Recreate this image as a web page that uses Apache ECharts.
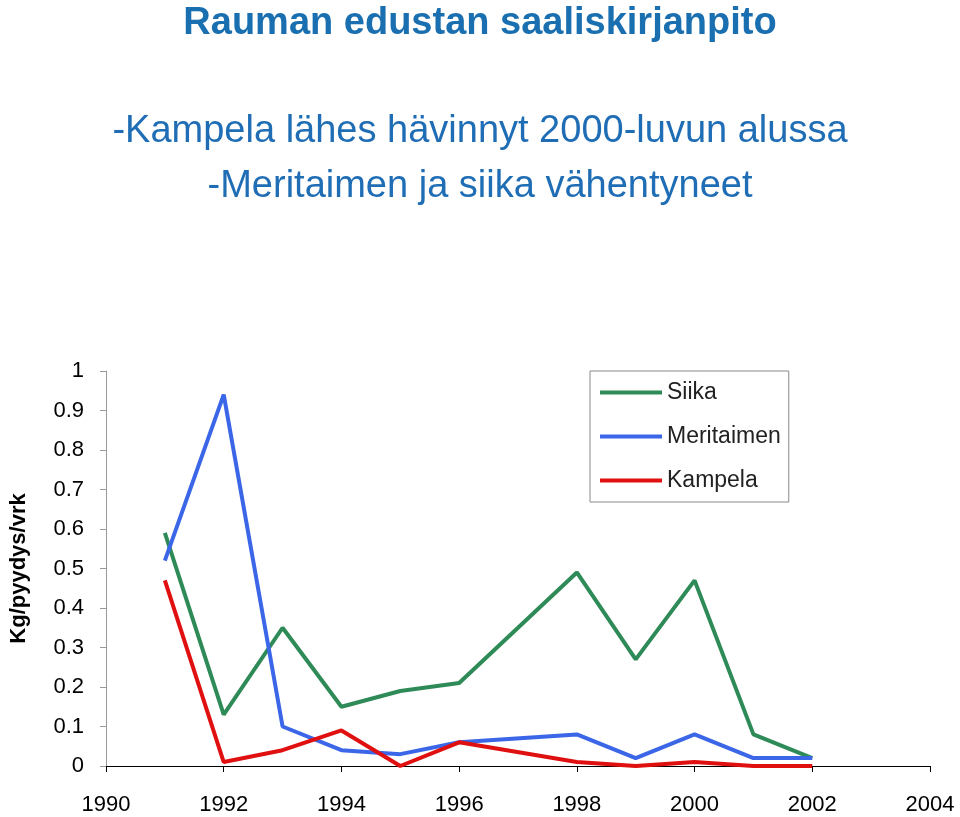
<!DOCTYPE html>
<html><head><meta charset="utf-8">
<script src="https://cdn.jsdelivr.net/npm/echarts@6/dist/echarts.min.js"></script>
<style>html,body{margin:0;padding:0;background:#fff}#c{width:960px;height:817px}</style>
</head><body><div id="c"></div>
<script>
const siikaYears=[1991,1992,1993,1994,1995,1996,1998,1999,2000,2001,2002];
const siika=[0.59,0.13,0.35,0.15,0.19,0.21,0.49,0.27,0.47,0.08,0.02];
const meriYears=[1991,1992,1993,1994,1995,1996,1998,1999,2000,2001,2002];
const meritaimen=[0.52,0.94,0.10,0.04,0.03,0.06,0.08,0.02,0.08,0.02,0.02];
const kampYears=[1991,1992,1993,1994,1995,1996,1998,1999,2000,2001,2002];
const kampela=[0.47,0.01,0.04,0.09,0.0,0.06,0.01,0.0,0.01,0.0,0.0];
const pair=(xs,ys)=>xs.map((x,i)=>[x,ys[i]]);
const F='Liberation Sans, Arial, sans-serif';
const ch=echarts.init(document.getElementById('c'));
ch.setOption({
 animation:false,
 title:[
  {text:'Rauman edustan saaliskirjanpito',left:'center',top:0,textStyle:{fontFamily:F,fontSize:38,fontWeight:'bold',color:'#1a6fb0'}},
  {text:'-Kampela lähes hävinnyt 2000-luvun alussa',left:'center',top:108,textStyle:{fontFamily:F,fontSize:38,fontWeight:'normal',color:'#1f6db5'}},
  {text:'-Meritaimen ja siika vähentyneet',left:'center',top:163,textStyle:{fontFamily:F,fontSize:38,fontWeight:'normal',color:'#1f6db5'}}
 ],
 grid:{left:97,right:30,top:371,bottom:51},
 legend:{orient:'vertical',left:590,top:371,padding:[10,8,10,10],itemGap:21,itemWidth:62,itemHeight:4,icon:'rect',
  borderColor:'#888',borderWidth:1,textStyle:{fontFamily:F,fontSize:23,color:'#222',width:130},
  data:['Siika','Meritaimen','Kampela']},
 xAxis:{type:'value',min:1990,max:2004,interval:2,
  axisLine:{lineStyle:{color:'#000'}},axisTick:{length:6,lineStyle:{color:'#000'}},splitLine:{show:false},
  axisLabel:{fontFamily:F,fontSize:22,color:'#000',margin:28,formatter:v=>String(v)}},
 yAxis:{type:'value',min:0,max:1,interval:0.1,name:'Kg/pyydys/vrk',nameLocation:'middle',nameGap:76,
  nameTextStyle:{fontFamily:F,fontSize:22,fontWeight:'bold',color:'#000'},
  axisLine:{show:true,lineStyle:{color:'#999'}},axisTick:{show:true,length:6,lineStyle:{color:'#999'}},splitLine:{show:false},
  axisLabel:{fontFamily:F,fontSize:22,color:'#000',margin:22,formatter:v=>v===0?'0':v===1?'1':String(+v.toFixed(1))}},
 series:[
  {name:'Siika',type:'line',data:pair(siikaYears,siika),symbol:'none',lineStyle:{width:4,color:'#2e8b57'},itemStyle:{color:'#2e8b57'}},
  {name:'Meritaimen',type:'line',data:pair(meriYears,meritaimen),symbol:'none',lineStyle:{width:4,color:'#3b66e8'},itemStyle:{color:'#3b66e8'}},
  {name:'Kampela',type:'line',data:pair(kampYears,kampela),symbol:'none',lineStyle:{width:4,color:'#e01010'},itemStyle:{color:'#e01010'}}
 ]
});
</script></body></html>
